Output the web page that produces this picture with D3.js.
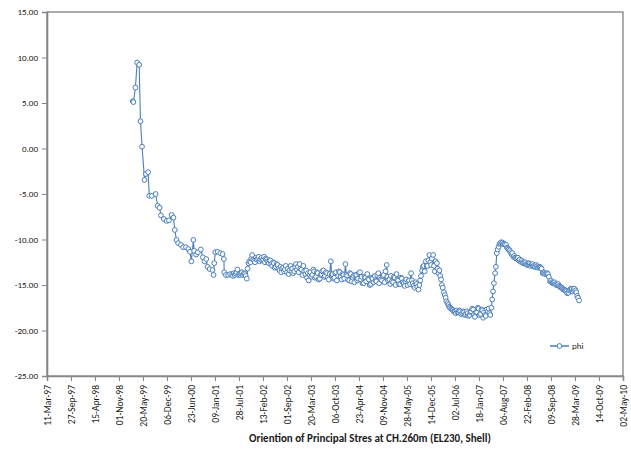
<!DOCTYPE html>
<html>
<head>
<meta charset="utf-8">
<script src="https://cdn.jsdelivr.net/npm/d3@7/dist/d3.min.js"></script>
<style>
  body { margin: 0; background: #fff; }
  text { font-family: Carlito, Lato, "Liberation Sans", sans-serif; fill: #1a1a1a; }
</style>
</head>
<body>
<svg id="chart" width="631" height="450"></svg>
<script>
// Reading dates (ISO) and the matching phi values (degrees)
const dates = [
  "1999-02-24","1999-03-01","1999-03-18","1999-04-01","1999-04-18","1999-04-29","1999-05-12","1999-06-02",
  "1999-06-13","1999-07-02","1999-07-11","1999-08-02","1999-09-02","1999-09-19","1999-10-05","1999-10-16",
  "1999-11-10","1999-12-03","1999-12-22","2000-01-13","2000-01-29","2000-02-09","2000-02-23","2000-03-08",
  "2000-04-01","2000-04-20","2000-05-12","2000-06-01","2000-06-15","2000-06-26","2000-07-13","2000-07-19",
  "2000-08-05","2000-08-19","2000-09-13","2000-09-30","2000-10-13","2000-10-28","2000-11-08","2000-11-25",
  "2000-12-19","2000-12-28","2001-01-03","2001-01-11","2001-01-31","2001-02-22","2001-03-13","2001-03-24",
  "2001-03-27","2001-04-10","2001-04-29","2001-05-15",
  "2001-06-01","2001-06-08","2001-06-15","2001-06-22",
  "2001-07-01","2001-07-08","2001-07-15","2001-07-22",
  "2001-08-01","2001-08-08","2001-08-15","2001-08-22",
  "2001-09-01","2001-09-08","2001-09-15","2001-09-22",
  "2001-10-01","2001-10-08","2001-10-15","2001-10-22",
  "2001-11-01","2001-11-08","2001-11-15","2001-11-22",
  "2001-12-01","2001-12-08","2001-12-15","2001-12-22",
  "2002-01-01","2002-01-08","2002-01-15","2002-01-22",
  "2002-02-01","2002-02-08","2002-02-15","2002-02-22",
  "2002-03-01","2002-03-08","2002-03-15","2002-03-22",
  "2002-04-01","2002-04-08","2002-04-15","2002-04-22",
  "2002-05-01","2002-05-08","2002-05-15","2002-05-22",
  "2002-06-01","2002-06-08","2002-06-15","2002-06-22",
  "2002-07-01","2002-07-08","2002-07-15","2002-07-22",
  "2002-08-01","2002-08-08","2002-08-15","2002-08-22",
  "2002-09-01","2002-09-08","2002-09-15","2002-09-22",
  "2002-10-01","2002-10-08","2002-10-15","2002-10-22",
  "2002-11-01","2002-11-08","2002-11-15","2002-11-22",
  "2002-12-01","2002-12-08","2002-12-15","2002-12-22",
  "2003-01-01","2003-01-08","2003-01-15","2003-01-22",
  "2003-02-01","2003-02-08","2003-02-15","2003-02-22",
  "2003-03-01","2003-03-08","2003-03-15","2003-03-22",
  "2003-04-01","2003-04-08","2003-04-15","2003-04-22",
  "2003-05-01","2003-05-08","2003-05-15","2003-05-22",
  "2003-06-01","2003-06-08","2003-06-15","2003-06-22",
  "2003-07-01","2003-07-08","2003-07-15","2003-07-22",
  "2003-08-01","2003-08-08","2003-08-15","2003-08-22",
  "2003-09-01","2003-09-08","2003-09-15","2003-09-22",
  "2003-10-01","2003-10-08","2003-10-15","2003-10-22",
  "2003-11-01","2003-11-08","2003-11-15","2003-11-22",
  "2003-12-01","2003-12-08","2003-12-15","2003-12-22",
  "2004-01-01","2004-01-08","2004-01-15","2004-01-22",
  "2004-02-01","2004-02-08","2004-02-15","2004-02-22",
  "2004-03-01","2004-03-08","2004-03-15","2004-03-22",
  "2004-04-01","2004-04-08","2004-04-15","2004-04-22",
  "2004-05-01","2004-05-08","2004-05-15","2004-05-22",
  "2004-06-01","2004-06-08","2004-06-15","2004-06-22",
  "2004-07-01","2004-07-08","2004-07-15","2004-07-22",
  "2004-08-01","2004-08-08","2004-08-15","2004-08-22",
  "2004-09-01","2004-09-08","2004-09-15","2004-09-22",
  "2004-10-01","2004-10-08","2004-10-15","2004-10-22",
  "2004-11-01","2004-11-08","2004-11-15","2004-11-22",
  "2004-12-01","2004-12-10","2004-12-15","2004-12-22",
  "2005-01-01","2005-01-08","2005-01-15","2005-01-22",
  "2005-02-01","2005-02-08","2005-02-15","2005-02-22",
  "2005-03-01","2005-03-08","2005-03-15","2005-03-22",
  "2005-04-01","2005-04-08","2005-04-15","2005-04-22",
  "2005-05-01","2005-05-08","2005-05-15","2005-05-22",
  "2005-06-01","2005-06-08","2005-06-15","2005-06-22",
  "2005-07-01","2005-07-08","2005-07-15","2005-07-22",
  "2005-08-01","2005-08-08","2005-08-15","2005-08-22",
  "2005-09-01","2005-09-08","2005-09-15","2005-09-22",
  "2005-10-01","2005-10-08","2005-10-15","2005-10-22",
  "2005-11-01","2005-11-08","2005-11-15","2005-11-22",
  "2005-12-01","2005-12-08","2005-12-15","2005-12-22",
  "2006-01-01","2006-01-08","2006-01-15","2006-01-22",
  "2006-02-01","2006-02-08","2006-02-15","2006-02-22",
  "2006-03-01","2006-03-08","2006-03-15","2006-03-22",
  "2006-04-01","2006-04-08","2006-04-15","2006-04-22",
  "2006-05-01","2006-05-08","2006-05-15","2006-05-22",
  "2006-06-01","2006-06-08","2006-06-15","2006-06-22",
  "2006-07-01","2006-07-08","2006-07-15","2006-07-22",
  "2006-08-01","2006-08-08","2006-08-15","2006-08-22",
  "2006-09-01","2006-09-08","2006-09-15","2006-09-22",
  "2006-10-01","2006-10-08","2006-10-15","2006-10-22",
  "2006-11-01","2006-11-08","2006-11-15","2006-11-22",
  "2006-12-01","2006-12-08","2006-12-15","2006-12-22",
  "2007-01-01","2007-01-08","2007-01-15","2007-01-22",
  "2007-02-01","2007-02-08","2007-02-15","2007-02-22",
  "2007-03-01","2007-03-08","2007-03-15","2007-03-22",
  "2007-04-01","2007-04-08","2007-04-15","2007-04-22",
  "2007-05-01","2007-05-08","2007-05-15","2007-05-22",
  "2007-06-01","2007-06-08","2007-06-15","2007-06-22",
  "2007-07-01","2007-07-08","2007-07-15","2007-07-22",
  "2007-08-01","2007-08-08","2007-08-15","2007-08-22",
  "2007-09-01","2007-09-08","2007-09-15","2007-09-22",
  "2007-10-01","2007-10-08","2007-10-15","2007-10-22",
  "2007-11-01","2007-11-08","2007-11-15","2007-11-22",
  "2007-12-01","2007-12-08","2007-12-15","2007-12-22",
  "2008-01-01","2008-01-08","2008-01-15","2008-01-22",
  "2008-02-01","2008-02-08","2008-02-15","2008-02-22",
  "2008-03-01","2008-03-08","2008-03-15","2008-03-22",
  "2008-04-01","2008-04-08","2008-04-15","2008-04-22",
  "2008-05-01","2008-05-08","2008-05-15","2008-05-22",
  "2008-06-01","2008-06-08","2008-06-15","2008-06-22",
  "2008-07-01","2008-07-08","2008-07-15","2008-07-22",
  "2008-08-01","2008-08-08","2008-08-15","2008-08-22",
  "2008-09-01","2008-09-08","2008-09-15","2008-09-22",
  "2008-10-01","2008-10-08","2008-10-15","2008-10-22",
  "2008-11-01","2008-11-08","2008-11-15","2008-11-22",
  "2008-12-01","2008-12-08","2008-12-15","2008-12-22",
  "2009-01-01","2009-01-08","2009-01-15","2009-01-22",
  "2009-02-01","2009-02-08","2009-02-15","2009-02-22",
  "2009-03-01","2009-03-08","2009-03-15","2009-03-22",
  "2009-04-01","2009-04-08","2009-04-15","2009-04-22",
  "2009-05-01"
];
const phi = [
  5.2, 5.1, 6.7, 9.45, 9.2, 3.0, 0.2, -3.45,
  -2.8, -2.6, -5.2, -5.2, -5.0, -6.3, -6.5, -7.35,
  -7.75, -7.95, -7.9, -7.3, -7.6, -8.95, -10.05, -10.4,
  -10.6, -10.85, -10.85, -11.05, -11.35, -12.4, -10.05, -11.25,
  -11.65, -11.4, -11.1, -11.95, -12.4, -12.15, -13.0, -13.25,
  -13.35, -13.9, -12.6, -11.4, -11.35, -11.5, -11.6, -12.15,
  -13.6, -13.9, -13.9, -13.8,
  -13.8, -14.0, -13.7, -13.9,
  -13.75, -13.6, -13.3, -13.9,
  -13.8, -13.9, -13.75, -13.6,
  -13.9, -13.7, -13.8, -14.0,
  -14.3, -13.2, -12.6, -12.4,
  -12.5, -12.1, -11.7, -12.2,
  -12.3, -12.5, -12.0, -12.2,
  -12.1, -11.9, -12.4, -12.2,
  -12.0, -12.3, -12.2, -11.9,
  -12.5, -12.1, -12.2, -12.4,
  -12.6, -12.3, -12.3, -12.7,
  -12.9, -12.5, -12.6, -13.1,
  -13.0, -12.7, -12.8, -13.2,
  -13.4, -13.0, -13.6, -13.2,
  -13.1, -13.5, -13.3, -12.9,
  -13.6, -13.2, -13.8, -13.4,
  -12.9, -13.5, -13.2, -13.7,
  -13.5, -13.0, -12.7, -13.3,
  -13.0, -13.6, -12.7, -13.2,
  -13.3, -13.9, -12.9, -13.5,
  -13.8, -13.4, -14.2, -13.7,
  -14.5, -13.9, -13.6, -14.1,
  -13.9, -13.3, -13.5, -14.2,
  -14.1, -13.6, -13.7, -14.4,
  -14.3, -13.9, -13.8, -13.5,
  -13.4, -14.1, -14.0, -13.6,
  -13.7, -14.2, -14.4, -13.8,
  -12.4, -13.9, -13.8, -14.3,
  -14.2, -13.7, -13.6, -14.5,
  -14.0, -13.5, -13.6, -14.1,
  -14.4, -13.8, -13.9, -14.3,
  -12.7, -13.9, -14.0, -14.4,
  -14.5, -13.7, -13.8, -14.6,
  -14.2, -14.0, -14.7, -13.9,
  -13.9, -14.5, -14.3, -13.7,
  -13.6, -14.4, -14.1, -14.8,
  -14.8, -14.1, -14.2, -14.6,
  -13.8, -14.3, -14.4, -15.0,
  -14.9, -14.2, -14.3, -14.7,
  -14.0, -14.5, -14.6, -13.9,
  -13.7, -14.8, -14.2, -14.4,
  -14.5, -14.0, -13.9, -14.7,
  -13.5, -12.8, -14.1, -14.5,
  -14.4, -14.9, -14.0, -14.6,
  -14.7, -14.1, -14.2, -15.0,
  -13.8, -14.4, -14.5, -14.9,
  -14.9, -14.2, -14.3, -14.7,
  -14.8, -15.1, -14.6, -14.4,
  -15.0, -14.6, -14.5, -14.9,
  -13.7, -14.5, -14.8, -15.1,
  -15.3, -14.7, -14.9, -15.2,
  -15.5, -15.0, -14.5, -14.0,
  -13.4, -13.0, -12.9, -13.5,
  -12.4, -12.9, -12.9, -12.3,
  -11.7, -12.5, -12.8, -12.1,
  -11.7, -12.9, -13.5, -12.4,
  -12.6, -13.2, -13.7, -13.4,
  -14.0, -14.4, -15.0, -15.3,
  -15.8, -16.1, -16.4, -16.8,
  -17.0, -17.2, -17.4, -17.5,
  -17.6, -17.7, -17.75, -17.9,
  -17.9, -18.1, -17.8, -18.0,
  -18.0, -17.8, -17.9, -18.2,
  -18.1, -17.9, -18.0, -18.3,
  -18.2, -17.9, -18.1, -18.4,
  -18.3, -18.0, -17.9, -17.6,
  -17.7, -18.2, -18.5, -18.0,
  -18.0, -17.5, -17.6, -18.3,
  -18.2, -17.7, -17.8, -18.6,
  -18.0, -18.3, -18.4, -17.7,
  -17.9, -17.6, -18.1, -18.3,
  -17.5, -16.6, -15.7, -14.8,
  -13.7, -13.0, -11.5, -11.1,
  -10.8, -10.5, -10.4, -10.3,
  -10.35, -10.5, -10.45, -10.55,
  -10.6, -10.9, -11.0, -11.1,
  -11.2, -11.4, -11.6, -11.5,
  -11.9, -11.8, -12.0, -12.1,
  -12.1, -12.0, -12.3, -12.2,
  -12.45, -12.3, -12.5, -12.6,
  -12.6, -12.5, -12.7, -12.8,
  -12.75, -12.6, -12.7, -12.9,
  -12.8, -12.7, -12.9, -13.0,
  -13.0, -12.8, -12.95, -13.1,
  -13.05, -13.0, -13.1, -13.2,
  -13.7, -13.6, -13.7, -13.8,
  -13.75, -13.7, -13.8, -14.1,
  -14.6, -14.5, -14.7, -14.8,
  -14.8, -14.7, -14.9, -15.0,
  -15.0, -14.9, -15.1, -15.2,
  -15.25, -15.3, -15.4, -15.5,
  -15.55, -15.6, -15.7, -15.9,
  -15.85, -15.6, -15.5, -15.4,
  -15.45, -15.7, -15.55, -15.4,
  -15.6, -15.8, -16.2, -16.4,
  -16.7
];

const seriesName = "phi";
const yTicks = [15, 10, 5, 0, -5, -10, -15, -20, -25];
const xTickLabels = [
  "11-Mar-97","27-Sep-97","15-Apr-98","01-Nov-98","20-May-99","06-Dec-99","23-Jun-00","09-Jan-01",
  "28-Jul-01","13-Feb-02","01-Sep-02","20-Mar-03","06-Oct-03","23-Apr-04","09-Nov-04","28-May-05",
  "14-Dec-05","02-Jul-06","18-Jan-07","06-Aug-07","22-Feb-08","09-Sep-08","28-Mar-09","14-Oct-09",
  "02-May-10"
];
const axisTitle = "Oriention of Principal Stres at CH.260m (EL230, Shell)";

const parseIso = d3.utcParse("%Y-%m-%d");
const parseTick = d3.utcParse("%d-%b-%y");
const tickDates = xTickLabels.map(parseTick);
const points = dates.map((d, i) => ({ date: parseIso(d), value: phi[i] }));

const plot = { left: 47, right: 623, top: 12, bottom: 376 };
const svg = d3.select("#chart");
svg.append("rect").attr("width", 631).attr("height", 450).attr("fill", "#fff");

const x = d3.scaleUtc()
  .domain([tickDates[0], tickDates[tickDates.length - 1]])
  .range([plot.left, plot.right]);
const y = d3.scaleLinear().domain([-25, 15]).range([plot.bottom, plot.top]);

// plot-area frame
svg.append("rect")
  .attr("x", plot.left).attr("y", plot.top)
  .attr("width", plot.right - plot.left).attr("height", plot.bottom - plot.top)
  .attr("fill", "none").attr("stroke", "#5a5a5a").attr("stroke-width", 1);

// value axis
const yAxis = svg.append("g")
  .attr("transform", `translate(${plot.left},0)`)
  .call(d3.axisLeft(y).tickValues(yTicks).tickFormat(d => d.toFixed(2)).tickSize(5).tickPadding(4));
yAxis.select(".domain").attr("stroke", "#868686").attr("stroke-width", 1.6);
yAxis.selectAll(".tick line").attr("stroke", "#868686");
yAxis.selectAll("text").attr("font-size", 9).attr("fill", "#1a1a1a");

// date axis
const xAxis = svg.append("g")
  .attr("transform", `translate(0,${plot.bottom})`)
  .call(d3.axisBottom(x).tickValues(tickDates).tickFormat((d, i) => xTickLabels[i]).tickSize(5));
xAxis.select(".domain").attr("stroke", "#868686").attr("stroke-width", 1.6);
xAxis.selectAll(".tick line").attr("stroke", "#868686");
xAxis.selectAll("text")
  .attr("font-size", 9.5).attr("fill", "#1a1a1a")
  .attr("transform", "rotate(-90)")
  .attr("x", -9).attr("y", 0).attr("dy", "0.35em")
  .style("text-anchor", "end");

// axis title
svg.append("text")
  .attr("x", 370).attr("y", 442)
  .attr("text-anchor", "middle")
  .attr("font-size", 11).attr("font-weight", "bold")
  .text(axisTitle);

// series
const blue = "#4a7ebb";
const line = d3.line().x(d => x(d.date)).y(d => y(d.value));
svg.append("path").datum(points)
  .attr("d", line).attr("fill", "none").attr("stroke", blue).attr("stroke-width", 1.1);
svg.append("g").selectAll("circle").data(points).join("circle")
  .attr("cx", d => x(d.date)).attr("cy", d => y(d.value)).attr("r", 2.4)
  .attr("fill", "#fff").attr("stroke", blue).attr("stroke-width", 1);

// legend
const lg = svg.append("g").attr("transform", "translate(550,346)");
lg.append("line").attr("x1", 0).attr("x2", 19).attr("stroke", blue).attr("stroke-width", 1.5);
lg.append("circle").attr("cx", 9.5).attr("r", 2.4).attr("fill", "#fff").attr("stroke", blue);
lg.append("text").attr("x", 22).attr("dy", "0.35em").attr("font-size", 9).text(seriesName);
</script>
</body>
</html>
